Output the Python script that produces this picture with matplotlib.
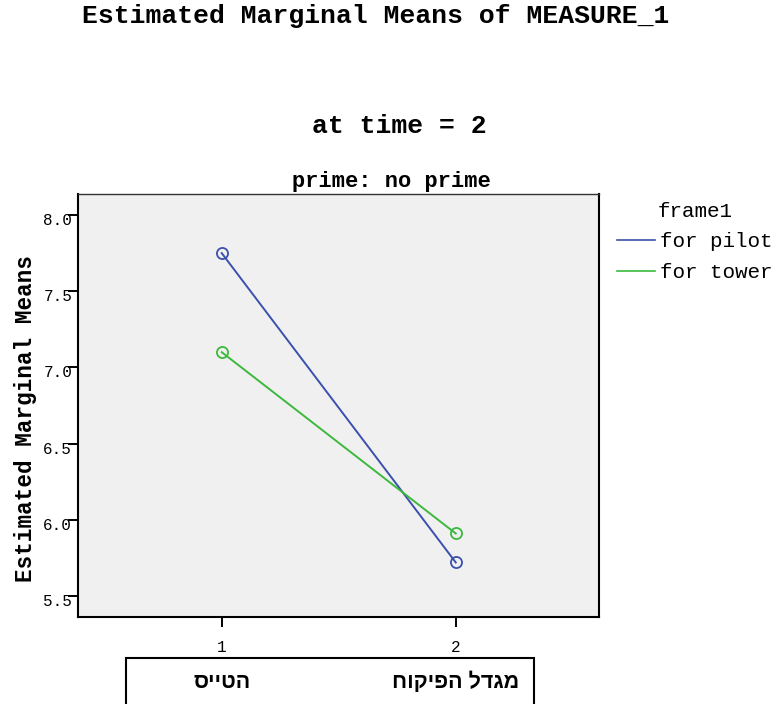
import matplotlib
matplotlib.use("Agg")
import matplotlib.pyplot as plt
import matplotlib.transforms as mtransforms
from matplotlib.patches import Rectangle
from matplotlib.lines import Line2D

# data
x_levels = [1, 2]
x_names = ["הטייס", "מגדל הפיקוח"]  # logical (RTL) order
pilot = [7.75, 5.72]
tower = [7.10, 5.91]
series_names = ["for pilot", "for tower"]
series_colors = ["#3b50ad", "#3cb93c"]
y_ticks = [5.5, 6.0, 6.5, 7.0, 7.5, 8.0]

MONO = "Liberation Mono"
W, H = 782, 704

fig = plt.figure(figsize=(W / 100, H / 100), dpi=100)
ax = fig.add_axes([78 / W, 1 - 617 / H, (599 - 78) / W, (617 - 194) / H])
ax.set_facecolor("#f0f0f0")

for vals, name, col in zip([pilot, tower], series_names, series_colors):
    ax.plot(x_levels, vals, color=col, lw=1.4, marker="o", ms=8,
            mfc="none", mec=col, mew=1.3, label=name)

ax.set_xlim(0.386, 2.612)
ax.set_ylim(5.362, 8.138)
ax.set_xticks(x_levels)
ax.set_xticklabels([str(v) for v in x_levels])
ax.set_yticks(y_ticks)
ax.set_yticklabels(["%.1f" % v for v in y_ticks])

for lab in ax.get_xticklabels() + ax.get_yticklabels():
    lab.set_fontfamily(MONO)
    lab.set_fontsize(11.5)
ax.tick_params(axis="y", length=7.2, width=1.4, pad=-3)
ax.tick_params(axis="x", length=7.2, width=1.4, pad=9)
# y labels in SPSS sit a little below their ticks
off = mtransforms.ScaledTranslation(0, -4 / 100, fig.dpi_scale_trans)
for lab in ax.get_yticklabels():
    lab.set_transform(lab.get_transform() + off)

for side in ["left", "bottom", "right"]:
    ax.spines[side].set_linewidth(1.5)
    ax.spines[side].set_color("black")
ax.spines["top"].set_linewidth(1.0)
ax.spines["top"].set_color("#333333")

# category box under the x axis
fig.patches.append(Rectangle((126 / W, -0.05), (534 - 126) / W, (704 - 658) / H + 0.05,
                             transform=fig.transFigure, fill=False,
                             edgecolor="black", lw=1.5))
for xv, name in zip(x_levels, x_names):
    # matplotlib has no bidi support, so reverse for right-to-left display
    ax.text(xv, -0.154, name[::-1], transform=ax.get_xaxis_transform(),
            ha="center", va="center", fontsize=15.5, fontweight="bold",
            family=["Liberation Sans", "DejaVu Sans"])

fig.text(376 / W, 1 - 23 / H, "Estimated Marginal Means of MEASURE_1",
         ha="center", va="baseline", fontsize=19, fontweight="bold", family=MONO)
fig.text(399 / W, 1 - 133 / H, "at time = 2",
         ha="center", va="baseline", fontsize=19, fontweight="bold", family=MONO)
fig.text(391 / W, 1 - 187 / H, "prime: no prime",
         ha="center", va="baseline", fontsize=15.8, fontweight="bold", family=MONO)
fig.text(26 / W, 1 - 418 / H, "Estimated Marginal Means", rotation=90,
         ha="center", va="center", fontsize=16.3, fontweight="bold", family=MONO)

# legend shows plain lines only
handles = [Line2D([], [], color=c, lw=1.2) for c in series_colors]
leg = ax.legend(handles, series_names, loc="upper left",
                bbox_to_anchor=(617 / W, 1 - 202 / H),
                bbox_transform=fig.transFigure, frameon=False, borderpad=0,
                borderaxespad=0, handlelength=1.83, handletextpad=0.24,
                labelspacing=0.55, title="frame1",
                prop={"family": MONO, "size": 15},
                title_fontproperties={"family": MONO, "size": 15})

fig.savefig("out.png", dpi=100)
